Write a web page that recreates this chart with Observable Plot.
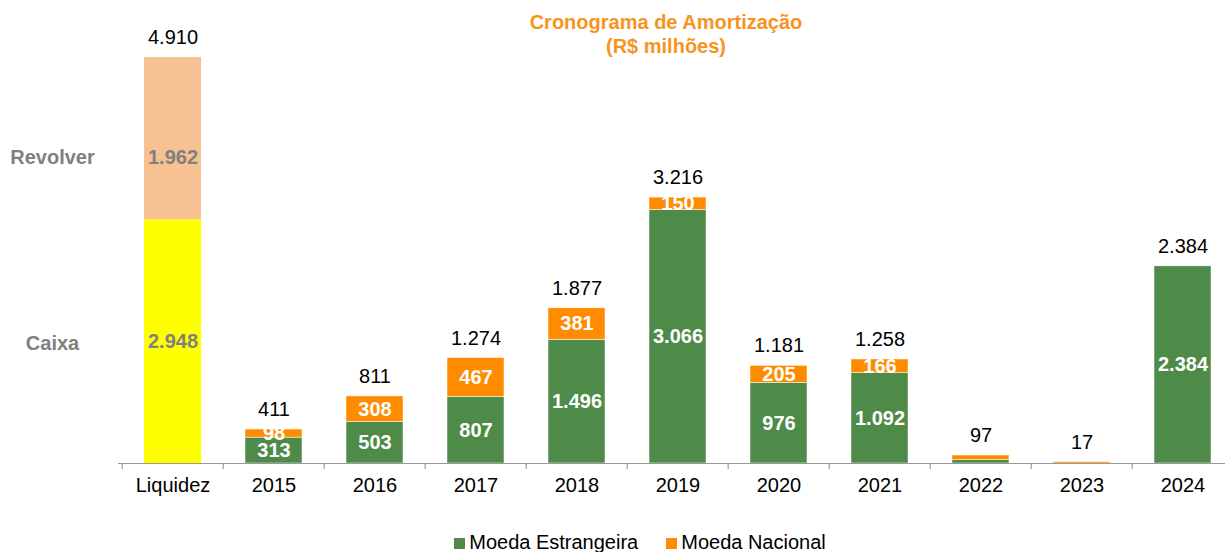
<!DOCTYPE html>
<html>
<head>
<meta charset="utf-8">
<script src="https://cdn.jsdelivr.net/npm/d3@7"></script>
<script src="https://cdn.jsdelivr.net/npm/@observablehq/plot@0.6"></script>
<style>
  html, body { margin: 0; padding: 0; background: #fff; overflow: hidden; width: 1225px; height: 552px; }
  body { position: relative; font-family: "Liberation Sans", Arial, sans-serif; }
  #title { position: absolute; left: 456px; width: 420px; top: 10px; text-align: center; color: #F7941D; font-weight: bold; font-size: 20px; line-height: 24px; }
  #legend { position: absolute; top: 530px; left: 0; width: 1280px; text-align: center; font-size: 20px; line-height: 24px; color: #000; white-space: nowrap; }
  #legend span.sw { display: inline-block; width: 11px; height: 11px; margin-right: 4px; vertical-align: 0px; }
  #legend span.item { margin: 0 14px; }
  #chart { position: absolute; top: 0; left: 0; }
  #chart svg { max-width: none !important; }
</style>
</head>
<body>
<div id="chart"></div>
<div id="title">Cronograma de Amortização<br>(R$ milhões)</div>
<div id="legend"><span class="item"><span class="sw" style="background:#4E8B48"></span>Moeda Estrangeira</span><span class="item"><span class="sw" style="background:#FF8C00"></span>Moeda Nacional</span></div>
<script>
const categories = ["Liquidez","2015","2016","2017","2018","2019","2020","2021","2022","2023","2024"];
const years = ["2015","2016","2017","2018","2019","2020","2021","2022","2023","2024"];
const moedaEstrangeira = [313, 503, 807, 1496, 3066, 976, 1092, 40, 0, 2384];
const moedaNacional = [98, 308, 467, 381, 150, 205, 166, 57, 17, 0];
const liquidezSeries = ["Caixa", "Revolver"];
const liquidezValues = [2948, 1962];
const totals = [4910, 411, 811, 1274, 1877, 3216, 1181, 1258, 97, 17, 2384];

const colors = {"Caixa": "#FFFF00", "Revolver": "#F8C192", "Moeda Estrangeira": "#4E8B48", "Moeda Nacional": "#FF8C00"};
const yearSeries = ["Moeda Estrangeira", "Moeda Nacional"];

const fmt = d3.formatLocale({decimal: ",", thousands: ".", grouping: [3], currency: ["R$", ""]}).format(",d");

const liqRows = liquidezSeries.map((s, i) => ({cat: "Liquidez", series: s, value: liquidezValues[i]}));
const yearRows = [];
years.forEach((y, i) => {
  yearRows.push({cat: y, series: "Moeda Estrangeira", value: moedaEstrangeira[i]});
  yearRows.push({cat: y, series: "Moeda Nacional", value: moedaNacional[i]});
});
const totalRows = categories.map((c, i) => ({cat: c, total: totals[i]}));

const W = 1236;
const step = (W - 118) / categories.length;
const liqText = (which, dy) => Plot.text(liqRows, Plot.stackY({x: "cat", y: "value", z: "series", order: liquidezSeries,
  text: d => d.series === which ? fmt(d.value) : "", fill: "#808080", fontWeight: "bold", fontSize: 20, dy}));
const sideText = (which, dy) => Plot.text(liqRows, Plot.stackY({y: "value", z: "series", order: liquidezSeries,
  text: d => d.series === which ? d.series : "", frameAnchor: "left", dx: -66, dy, textAnchor: "middle",
  fill: "#808080", fontWeight: "bold", fontSize: 20}));

const plot = Plot.plot({
  width: W,
  height: 510,
  marginLeft: 118,
  marginRight: 0,
  marginTop: 57,
  marginBottom: 47,
  style: {fontFamily: "'Liberation Sans', Arial, sans-serif", background: "#fff", overflow: "visible", maxWidth: "none"},
  x: {domain: categories, paddingInner: 0.44, paddingOuter: 0.22, label: null},
  y: {domain: [0, 4910], axis: null},
  color: {domain: Object.keys(colors), range: Object.values(colors)},
  marks: [
    Plot.barY(liqRows, Plot.stackY({x: "cat", y: "value", fill: "series", z: "series", order: liquidezSeries})),
    Plot.barY(yearRows, Plot.stackY({x: "cat", y: "value", fill: "series", z: "series", order: yearSeries, stroke: "#fff", strokeWidth: 0.5})),
    Plot.ruleY([0], {stroke: "#999", strokeWidth: 1.2}),
    Plot.axisX({tickSize: 6, dx: -step / 2, text: null, stroke: "#999", strokeWidth: 1.2}),
    Plot.axisX({tickSize: 0, tickPadding: 14, fontSize: 20, fill: "#000"}),
    liqText("Caixa", 0),
    liqText("Revolver", 19),
    Plot.text(yearRows, Plot.stackY({x: "cat", y: "value", z: "series", order: yearSeries,
      text: d => d.value >= 90 ? fmt(d.value) : "", fill: "#fff", fontWeight: "bold", fontSize: 20})),
    Plot.text(totalRows, {x: "cat", y: "total", text: d => fmt(d.total), dy: -20, fontSize: 20, fill: "#000"}),
    sideText("Caixa", 2),
    sideText("Revolver", 19)
  ]
});
document.getElementById("chart").appendChild(plot);
</script>
</body>
</html>
